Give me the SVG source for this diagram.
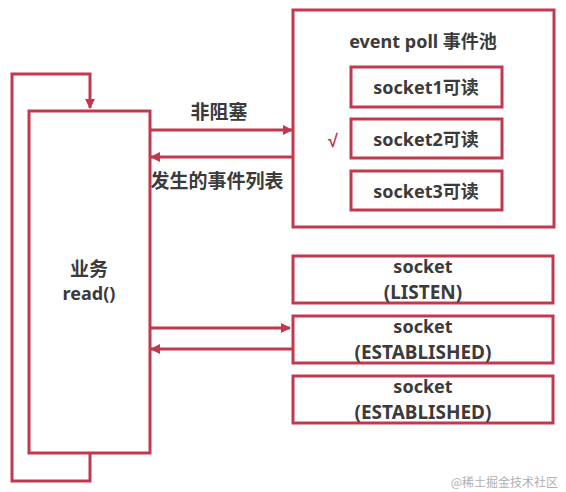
<svg xmlns="http://www.w3.org/2000/svg" width="566" height="492" viewBox="0 0 566 492">
<style>
.b{fill:#fff;stroke:#c2384f;stroke-width:3}
.c{fill:none;stroke:#c2384f;stroke-width:3}
.t{font-family:"Noto Sans","Noto Sans CJK SC",sans-serif;font-weight:bold;font-size:18px;fill:#3b3b3b;text-anchor:middle}
.k{font-size:19px}
.e{font-size:19px}
</style>
<defs>
<marker id="a" markerWidth="10" markerHeight="10" refX="9" refY="5" orient="auto" markerUnits="userSpaceOnUse">
<path d="M0,0 L10,5 L0,10 z" fill="#c2384f"/>
</marker>
</defs>
<rect width="566" height="492" fill="#fff"/>
<g id="connectors">
<polyline class="c" points="90,453 90,481 12,481 12,74 90,74 90,108" marker-end="url(#a)"/>
<line class="c" x1="150" y1="130" x2="292" y2="130" marker-end="url(#a)"/>
<line class="c" x1="293" y1="157" x2="151" y2="157" marker-end="url(#a)"/>
<line class="c" x1="150" y1="328" x2="290" y2="328" marker-end="url(#a)"/>
<line class="c" x1="293" y1="349" x2="151" y2="349" marker-end="url(#a)"/>
<text class="t k" x="219" y="119">非阻塞</text>
<text class="t k" x="217" y="188">发生的事件列表</text>
</g>
<g id="business">
<rect class="b" x="29" y="111" width="121" height="342"/>
<text class="t k" x="89" y="276">业务</text>
<text class="t" x="89" y="300">read()</text>
</g>
<g id="eventpoll">
<rect class="b" x="293" y="10" width="261" height="217"/>
<text class="t" x="423" y="48">event poll 事件池</text>
</g>
<g id="socket1">
<rect class="b" x="351" y="67" width="151" height="40"/>
<text class="t" x="426" y="94">socket1可读</text>
</g>
<g id="socket2">
<rect class="b" x="351" y="119" width="151" height="39"/>
<text class="t" x="426" y="146">socket2可读</text>
<text x="333" y="147" style="font-family:'Noto Sans',sans-serif;font-size:18px;font-weight:bold;fill:#c2384f;text-anchor:middle">√</text>
</g>
<g id="socket3">
<rect class="b" x="351" y="171" width="151" height="39"/>
<text class="t" x="426" y="198">socket3可读</text>
</g>
<g id="listen">
<rect class="b" x="293" y="256" width="260" height="47"/>
<text class="t" x="423" y="273">socket</text>
<text class="t e" x="423" y="299">(LISTEN)</text>
</g>
<g id="est1">
<rect class="b" x="293" y="316" width="260" height="47"/>
<text class="t" x="423" y="333">socket</text>
<text class="t e" x="423" y="359">(ESTABLISHED)</text>
</g>
<g id="est2">
<rect class="b" x="293" y="376" width="260" height="47"/>
<text class="t" x="423" y="393">socket</text>
<text class="t e" x="423" y="419">(ESTABLISHED)</text>
</g>
<text x="558" y="487" style="font-family:'Noto Sans CJK SC',sans-serif;font-size:12px;fill:#b0b0b0;text-anchor:end">@稀土掘金技术社区</text>
</svg>
